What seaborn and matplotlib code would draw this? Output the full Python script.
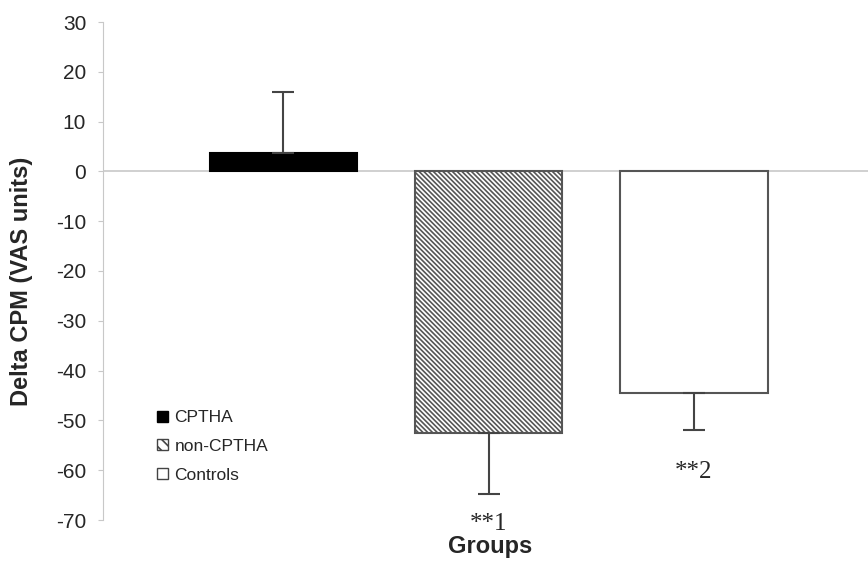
import numpy as np
import pandas as pd
import matplotlib
matplotlib.use("Agg")
import matplotlib.pyplot as plt
import seaborn as sns
from matplotlib.patches import Patch

groups = ["CPTHA", "non-CPTHA", "Controls"]
delta_cpm = [3.7, -52.5, -44.5]
sd = [12.2, 12.3, 7.5]
sig_labels = ["", "**1", "**2"]
y_ticks = list(range(-70, 31, 10))

df = pd.DataFrame({"group": groups, "delta": delta_cpm})

sns.set_style("white")
plt.rcParams["font.family"] = ["Liberation Sans", "DejaVu Sans"]
plt.rcParams["hatch.color"] = "#666666"
plt.rcParams["hatch.linewidth"] = 1.2

fig = plt.figure(figsize=(8.68, 5.67), dpi=100)
ax = fig.add_axes([103 / 868, 1 - 520 / 567, 1 - 103 / 868, (520 - 22) / 567])

colors = ["black", "white", "white"]
sns.barplot(data=df, x="group", y="delta", hue="group", palette=colors,
            dodge=False, width=0.72, legend=False, ax=ax,
            edgecolor="#555555", linewidth=1.5)

ax.patches[0].set_edgecolor("black")
ax.patches[1].set_hatch("\\" * 7)

# one-sided error bars (Excel style)
xpos = np.arange(len(groups))
lower = [0 if v > 0 else e for v, e in zip(delta_cpm, sd)]
upper = [e if v > 0 else 0 for v, e in zip(delta_cpm, sd)]
ax.errorbar(xpos, delta_cpm, yerr=[lower, upper], fmt="none",
            ecolor="#444444", elinewidth=1.5, capsize=8, capthick=1.5)

ax.axhline(0, color="#c8c8c8", lw=1.2, zorder=0)

ax.set_xlim(-0.88, 2.85)
ax.set_ylim(-70, 30)
ax.set_yticks(y_ticks)
ax.set_yticklabels([str(t) for t in y_ticks], fontsize=15)
ax.set_xticks([])
ax.set_xlabel("")
ax.set_ylabel("Delta CPM (VAS units)", fontsize=17, fontweight="bold")
ax.yaxis.set_label_coords(-0.0915, 0.48)

for side in ["top", "right", "bottom"]:
    ax.spines[side].set_visible(False)
ax.spines["left"].set_color("#c8c8c8")
ax.tick_params(axis="y", left=True, length=3.6, color="#c8c8c8", pad=8.5)

offsets = [0, 6.0, 8.3]
for x, v, e, s, off in zip(xpos, delta_cpm, sd, sig_labels, offsets):
    if s:
        ax.text(x, v - e - off, s, ha="center", va="center", fontsize=18,
                family=["Liberation Serif", "DejaVu Serif"])

fig.text(490 / 868, 1 - 547 / 567, "Groups", ha="center", va="center",
         fontsize=17, fontweight="bold")

handles = [Patch(facecolor="black", edgecolor="black"),
           Patch(facecolor="white", edgecolor="#444444", hatch="\\\\\\"),
           Patch(facecolor="white", edgecolor="#444444")]
ax.legend(handles, groups, loc="lower left", bbox_to_anchor=(0.055, 0.05),
          frameon=False, fontsize=12.5, handlelength=0.6, handleheight=0.6,
          handletextpad=0.4, labelspacing=0.8, borderpad=0.2)

fig.savefig("out.png", dpi=100)
